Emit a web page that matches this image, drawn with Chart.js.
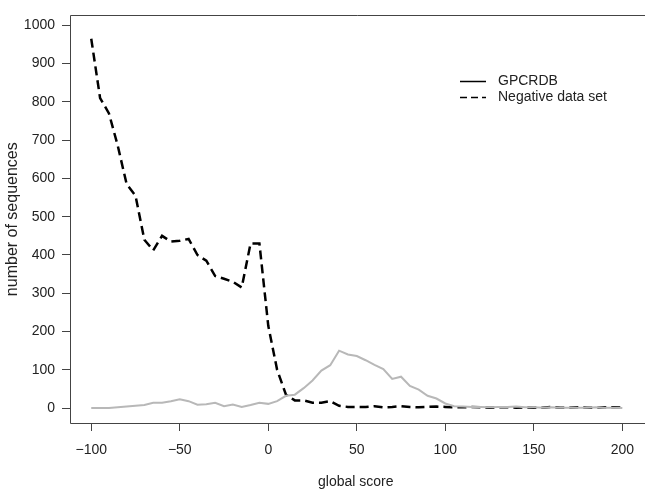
<!DOCTYPE html>
<html>
<head>
<meta charset="utf-8">
<script src="https://cdn.jsdelivr.net/npm/chart.js@4.4.1/dist/chart.umd.min.js"></script>
<style>
    html, body { margin: 0; padding: 0; background: #fff; overflow: hidden; }
    #wrap { width: 645px; height: 489px; }
</style>
</head>
<body>
<div id="wrap"><canvas id="chart" width="645" height="489"></canvas></div>
<script>
// global score bins (step 5)
const scores = [
    -100, -95, -90, -85, -80, -75, -70, -65, -60, -55,
    -50, -45, -40, -35, -30, -25, -20, -15, -10, -5,
    0, 5, 10, 15, 20, 25, 30, 35, 40, 45,
    50, 55, 60, 65, 70, 75, 80, 85, 90, 95,
    100, 105, 110, 115, 120, 125, 130, 135, 140, 145,
    150, 155, 160, 165, 170, 175, 180, 185, 190, 195,
    200
];

const gpcrdb = [
    0, 0, 0, 2, 4, 6, 8, 14, 14, 18,
    23, 18, 9, 10, 14, 5, 9, 3, 8, 14,
    11, 18, 32, 35, 52, 72, 98, 112, 150, 140,
    136, 125, 113, 102, 76, 82, 58, 48, 32, 25,
    12, 5, 4, 3, 3, 2, 3, 3, 4, 2,
    2, 1, 2, 1, 1, 1, 1, 2, 1, 1,
    0
];

const negative = [
    965, 810, 770, 685, 585, 555, 440, 412, 450, 435,
    437, 442, 400, 385, 345, 338, 330, 315, 430, 430,
    215, 100, 35, 20, 20, 14, 14, 18, 6, 3,
    3, 3, 5, 2, 3, 5, 3, 2, 3, 4,
    3, 2, 2, 3, 2, 1, 2, 2, 1, 2,
    1, 1, 3, 1, 1, 2, 1, 1, 2, 2,
    1
];

const xTicks = [-100, -50, 0, 50, 100, 150, 200];
const yTicks = [0, 100, 200, 300, 400, 500, 600, 700, 800, 900, 1000];

const FONT = "'Liberation Sans', Arial, Helvetica, sans-serif";
const AXIS_COLOR = '#444';
const TEXT_COLOR = '#222';

function toPoints(values) {
    return scores.map((x, i) => ({ x: x, y: values[i] }));
}

// box round the plot area (right side runs off the page) plus the legend
const framePlugin = {
    id: 'frame',
    afterDraw(chart) {
        const { ctx, chartArea: a } = chart;
        const l = Math.round(a.left) + 0.5;
        const t = Math.round(a.top) + 0.5;
        const b = Math.round(a.bottom) + 0.5;
        ctx.save();
        ctx.strokeStyle = AXIS_COLOR;
        ctx.lineWidth = 1;
        ctx.beginPath();
        ctx.moveTo(chart.width, t);
        ctx.lineTo(l, t);
        ctx.lineTo(l, b);
        ctx.lineTo(chart.width, b);
        ctx.stroke();

        const items = [
            { label: 'GPCRDB', dash: [] },
            { label: 'Negative data set', dash: [7, 4] }
        ];
        ctx.font = '14px ' + FONT;
        ctx.textBaseline = 'middle';
        items.forEach((item, i) => {
            const y = 81 + i * 16;
            ctx.strokeStyle = '#000';
            ctx.lineWidth = 1.5;
            ctx.setLineDash(item.dash);
            ctx.beginPath();
            ctx.moveTo(460, y + 0.5);
            ctx.lineTo(486, y + 0.5);
            ctx.stroke();
            ctx.setLineDash([]);
            ctx.fillStyle = TEXT_COLOR;
            ctx.fillText(item.label, 498, y);
        });
        ctx.restore();
    }
};

const chart = new Chart(document.getElementById('chart'), {
    type: 'line',
    data: {
        datasets: [
            {
                label: 'GPCRDB',
                data: toPoints(gpcrdb),
                borderColor: '#b8b8b8',
                borderWidth: 2,
                pointRadius: 0,
                tension: 0
            },
            {
                label: 'Negative data set',
                data: toPoints(negative),
                borderColor: '#000',
                borderWidth: 2.5,
                borderDash: [9, 5],
                pointRadius: 0,
                tension: 0
            }
        ]
    },
    options: {
        responsive: false,
        animation: false,
        layout: { padding: { top: 10, right: 0, left: 0, bottom: 0 } },
        plugins: {
            legend: { display: false },
            tooltip: { enabled: false }
        },
        scales: {
            x: {
                type: 'linear',
                min: -112,
                max: 210.9,
                afterFit: (scale) => { scale.height = 66; },
                afterBuildTicks: (scale) => { scale.ticks = xTicks.map(v => ({ value: v })); },
                grid: {
                    drawOnChartArea: false,
                    drawTicks: true,
                    tickLength: 8,
                    color: AXIS_COLOR
                },
                border: { display: false },
                ticks: {
                    padding: 11,
                    color: TEXT_COLOR,
                    font: { family: FONT, size: 14 },
                    maxRotation: 0,
                    callback: (v) => String(v).replace('-', '\u2212')
                },
                title: {
                    display: true,
                    text: 'global score',
                    color: TEXT_COLOR,
                    font: { family: FONT, size: 14 },
                    padding: { top: 0, bottom: -2 }
                }
            },
            y: {
                min: -39,
                max: 1026,
                afterFit: (scale) => { scale.width = 70; },
                afterBuildTicks: (scale) => { scale.ticks = yTicks.map(v => ({ value: v })); },
                grid: {
                    drawOnChartArea: false,
                    drawTicks: true,
                    tickLength: 8,
                    color: AXIS_COLOR
                },
                border: { display: false },
                ticks: {
                    padding: 7,
                    color: TEXT_COLOR,
                    font: { family: FONT, size: 14 },
                    callback: (v) => String(v)
                },
                title: {
                    display: true,
                    text: 'number of sequences',
                    color: TEXT_COLOR,
                    font: { family: FONT, size: 16 },
                    padding: { top: 3, bottom: 0 }
                }
            }
        }
    },
    plugins: [framePlugin]
});
</script>
</body>
</html>
